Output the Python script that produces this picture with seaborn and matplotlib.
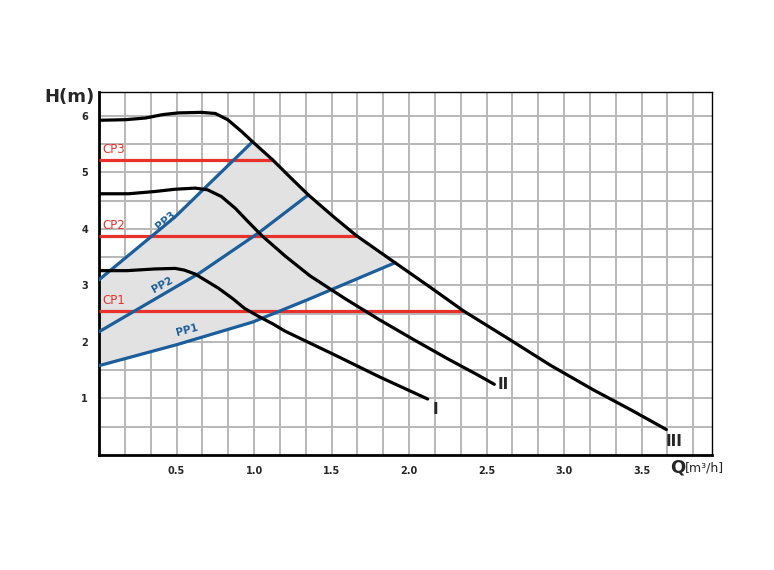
import matplotlib
matplotlib.use("Agg")
import matplotlib.pyplot as plt
import numpy as np
import pandas as pd
import seaborn as sns

sns.set_theme(style="white")
plt.rcParams["font.family"] = ["DejaVu Sans"]

# pump curves, speed I / II / III  (Q in m3/h, H in m)
q_speed1 = [0.0, 0.18, 0.36, 0.49, 0.55, 0.62, 0.68, 0.77, 0.86, 0.94, 1.03, 1.12,
            1.20, 1.36, 1.55, 1.81, 2.12]
h_speed1 = [3.26, 3.26, 3.29, 3.30, 3.27, 3.20, 3.10, 2.95, 2.77, 2.59, 2.45, 2.32,
            2.19, 1.98, 1.73, 1.38, 0.99]

q_speed2 = [0.0, 0.19, 0.36, 0.49, 0.62, 0.70, 0.79, 0.88, 0.96, 1.05, 1.20, 1.36,
            1.59, 1.81, 2.03, 2.25, 2.44, 2.55]
h_speed2 = [4.62, 4.62, 4.66, 4.70, 4.72, 4.69, 4.57, 4.36, 4.13, 3.88, 3.52, 3.17,
            2.76, 2.39, 2.04, 1.70, 1.42, 1.25]

q_speed3 = [0.0, 0.17, 0.30, 0.41, 0.51, 0.66, 0.75, 0.83, 0.92, 0.99, 1.12, 1.23,
            1.35, 1.51, 1.66, 1.91, 2.14, 2.35, 2.65, 2.91, 3.19, 3.43, 3.66]
h_speed3 = [5.92, 5.93, 5.96, 6.02, 6.05, 6.06, 6.04, 5.93, 5.72, 5.54, 5.22, 4.92,
            4.60, 4.22, 3.88, 3.40, 2.96, 2.55, 2.04, 1.59, 1.15, 0.80, 0.45]

# proportional pressure lines
q_pp1 = [0.0, 0.50, 0.99, 1.34, 1.91]
h_pp1 = [1.58, 1.95, 2.35, 2.74, 3.40]
q_pp2 = [0.0, 0.65, 1.03, 1.35]
h_pp2 = [2.18, 3.22, 3.93, 4.60]
q_pp3 = [0.0, 0.49, 0.99]
h_pp3 = [3.10, 4.21, 5.54]

# constant pressure lines
cp_names = ["CP1", "CP2", "CP3"]
cp_levels = [2.54, 3.88, 5.22]
cp_ends = [2.35, 1.66, 1.12]

x_ticks = [0.5, 1.0, 1.5, 2.0, 2.5, 3.0, 3.5]
y_ticks = [1, 2, 3, 4, 5, 6]

BLACK = "#000000"
BLUE = "#1c5d9c"
RED = "#e8312b"
SHADE = "#e2e2e2"
GRID = "#b8b8b8"

fig = plt.figure(figsize=(7.74, 5.70), dpi=100)
ax = fig.add_axes([0.128, 0.2018, 0.792, 0.6368])
ax.set_xlim(0, 3.955)
ax.set_ylim(0, 6.42)

# grid
ax.set_xticks(np.arange(1, 24) / 6, minor=True)
ax.set_yticks(np.arange(1, 13) * 0.5, minor=True)
ax.grid(which="both", color=GRID, linewidth=1.4)
ax.set_axisbelow(True)

# shaded working area: PP1 -> speed III -> PP3
sel = [(q, h) for q, h in zip(q_speed3, h_speed3) if q_pp3[-1] < q < q_pp1[-1]]
poly_q = list(q_pp1) + [q for q, _ in sel[::-1]] + list(q_pp3[::-1])
poly_h = list(h_pp1) + [h for _, h in sel[::-1]] + list(h_pp3[::-1])
ax.fill(poly_q, poly_h, color=SHADE, zorder=1, linewidth=0)

# CP lines
for name, lvl, end in zip(cp_names, cp_levels, cp_ends):
    ax.hlines(lvl, 0, end, color=RED, linewidth=2.3, zorder=3)
    ax.text(0.02, lvl + 0.07, name, color=RED, fontsize=8.5, ha="left", va="bottom")

# PP lines
for qs, hs in [(q_pp1, h_pp1), (q_pp2, h_pp2), (q_pp3, h_pp3)]:
    sns.lineplot(x=qs, y=hs, sort=False, color=BLUE, linewidth=2.3, ax=ax, zorder=4,
                 solid_joinstyle="round")

ax.text(0.43, 4.14, "PP3", color=BLUE, fontsize=7.5, fontweight="bold",
        rotation=40, ha="center", va="center")
ax.text(0.41, 3.01, "PP2", color=BLUE, fontsize=7.5, fontweight="bold",
        rotation=29, ha="center", va="center")
ax.text(0.57, 2.21, "PP1", color=BLUE, fontsize=7.5, fontweight="bold",
        rotation=15, ha="center", va="center")

# pump curves
for qs, hs in [(q_speed1, h_speed1), (q_speed2, h_speed2), (q_speed3, h_speed3)]:
    sns.lineplot(x=qs, y=hs, sort=False, color=BLACK, linewidth=2.3, ax=ax, zorder=5,
                 solid_joinstyle="round")

ax.text(2.17, 0.80, "I", fontsize=11, fontweight="bold", ha="center", va="center")
ax.text(2.61, 1.24, "II", fontsize=11, fontweight="bold", ha="center", va="center")
ax.text(3.71, 0.24, "III", fontsize=11, fontweight="bold", ha="center", va="center")

# ticks
ax.set_xticks(x_ticks)
ax.set_xticklabels([f"{v:.1f}" for v in x_ticks])
ax.set_yticks(y_ticks)
ax.set_yticklabels([str(v) for v in y_ticks])
ax.tick_params(which="both", length=0, labelsize=7, pad=8)
for lbl in ax.get_xticklabels() + ax.get_yticklabels():
    lbl.set_fontweight("bold")

for side in ["left", "bottom"]:
    ax.spines[side].set_color(BLACK)
    ax.spines[side].set_linewidth(2.0)
for side in ["top", "right"]:
    ax.spines[side].set_color(BLACK)
    ax.spines[side].set_linewidth(1.0)

fig.text(0.090, 0.830, "H(m)", fontsize=13, fontweight="bold", ha="center", va="center")
fig.text(0.866, 0.179, "Q", fontsize=13, fontweight="bold", ha="left", va="center")
fig.text(0.885, 0.179, "[m³/h]", fontsize=9, ha="left", va="center")

fig.savefig("out.png", dpi=100)
